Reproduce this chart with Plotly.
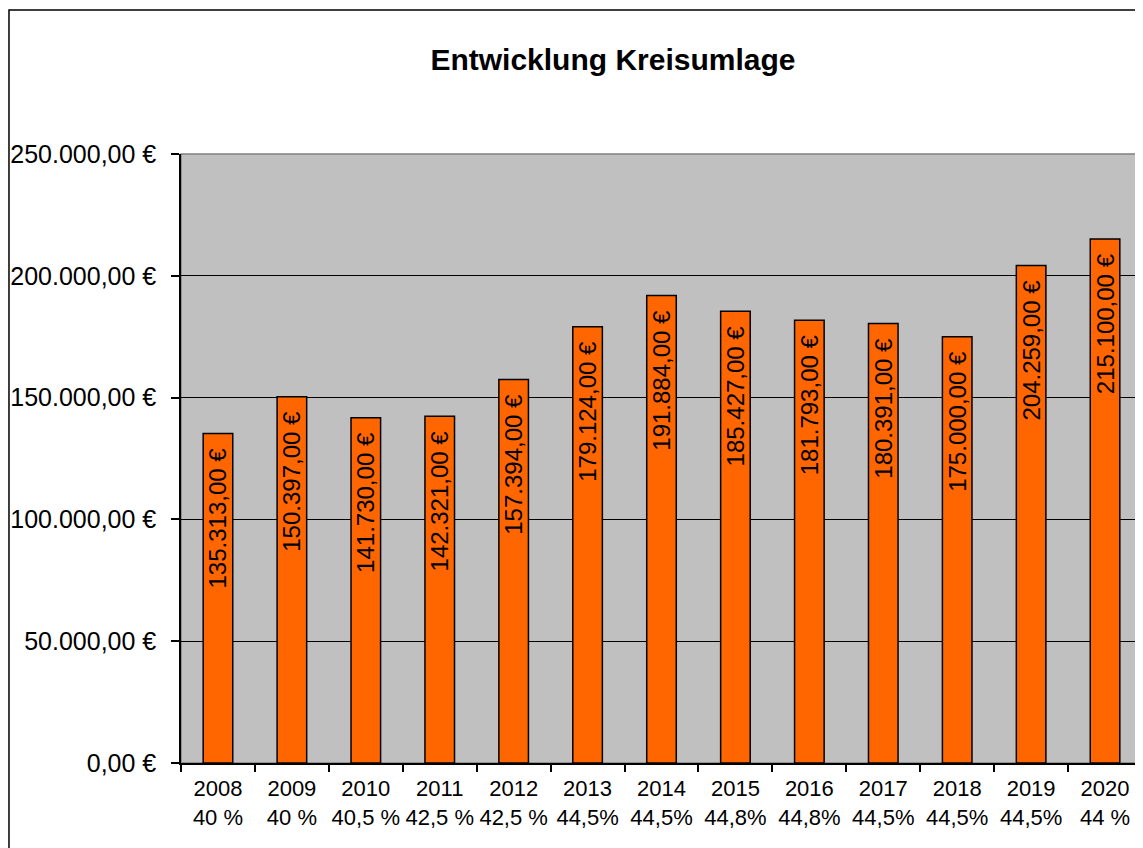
import plotly.graph_objects as go

# Kreisumlage je Jahr (Euro) und Hebesatz
jahre = ["2008", "2009", "2010", "2011", "2012", "2013", "2014",
         "2015", "2016", "2017", "2018", "2019", "2020"]
hebesatz = ["40 %", "40 %", "40,5 %", "42,5 %", "42,5 %", "44,5%", "44,5%",
            "44,8%", "44,8%", "44,5%", "44,5%", "44,5%", "44 %"]
umlage = [135313, 150397, 141730, 142321, 157394, 179124, 191884,
          185427, 181793, 180391, 175000, 204259, 215100]

kategorien = [j + "<br>" + h for j, h in zip(jahre, hebesatz)]

schrift = "Liberation Sans, Arial, sans-serif"

fig = go.Figure()
fig.add_trace(go.Bar(
    x=kategorien,
    y=umlage,
    marker=dict(color="#FF6600", line=dict(color="black", width=1.5)),
    texttemplate="%{y:,.2f} €\u2002",
    textposition="inside",
    insidetextanchor="end",
    textangle=-90,
    textfont=dict(family=schrift, size=24, color="black"),
    hoverinfo="skip",
))

fig.update_layout(
    width=1135, height=840,
    margin=dict(l=173, r=1, t=146, b=85),
    paper_bgcolor="white",
    plot_bgcolor="#C0C0C0",
    separators=",.",
    bargap=0.6,
    showlegend=False,
    uniformtext=dict(minsize=24, mode="show"),
    font=dict(family=schrift, color="black"),
    title=dict(text="<b>Entwicklung Kreisumlage</b>", xref="container",
               x=0.533, xanchor="center", y=1 - 51 / 840, yanchor="middle",
               font=dict(size=30, color="black")),
)

fig.update_yaxes(
    range=[0, 250000], dtick=50000,
    tickformat=",.2f", ticksuffix=" €",
    tickfont=dict(size=25),
    showgrid=True, gridcolor="black", gridwidth=1.2,
    showline=True, linecolor="black", linewidth=1.5,
    ticks="outside", ticklen=8, tickcolor="black", tickwidth=1.5,
    ticklabelstandoff=10,
    zeroline=False,
)
fig.update_xaxes(
    tickfont=dict(size=22),
    tickangle=0,
    showline=True, linecolor="black", linewidth=1.5,
    ticks="outside", ticklen=7, tickcolor="black", tickwidth=1.5,
    tickson="boundaries",
    ticklabelstandoff=5,
    showgrid=False,
)

# grauer Rahmen um die Zeichenfläche
fig.add_shape(type="rect", xref="paper", yref="paper", x0=0, x1=1, y0=0, y1=1,
              line=dict(color="#808080", width=1.5), layer="below")
# schwarzer Rahmen um das Diagramm
fig.add_shape(type="rect", xref="paper", yref="paper",
              x0=-0.179, x1=1.3, y0=-0.5, y1=1.2365,
              line=dict(color="black", width=1.5))

fig.write_html("out.html")
